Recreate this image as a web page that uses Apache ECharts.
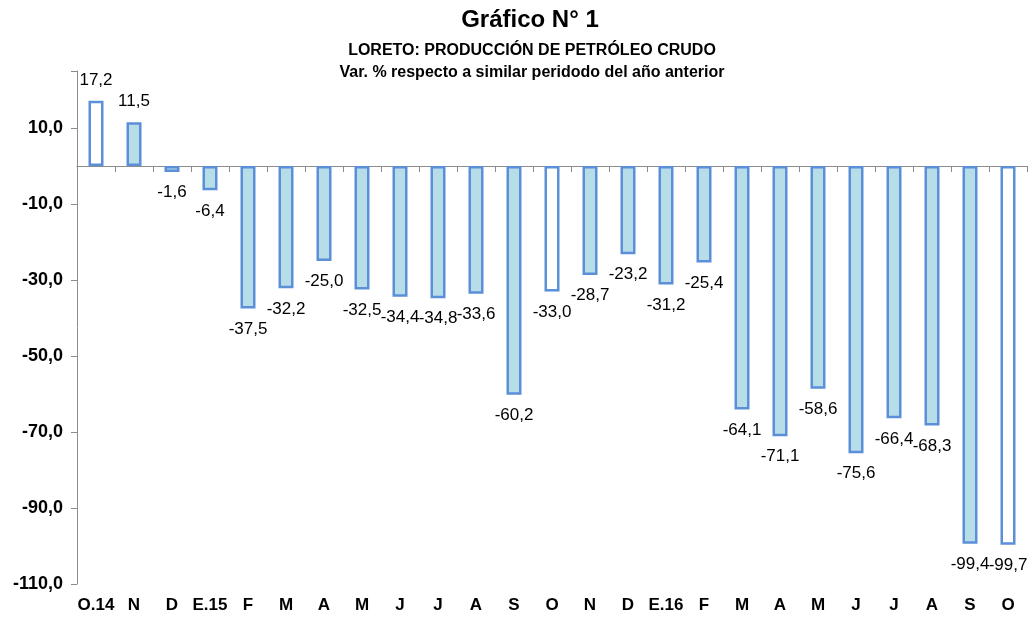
<!DOCTYPE html>
<html>
<head>
<meta charset="utf-8">
<script src="https://cdn.jsdelivr.net/npm/echarts@6/dist/echarts.min.js"></script>
<style>
  html, body { margin: 0; padding: 0; background: #fff; }
  #main { width: 1031px; height: 617px; }
</style>
</head>
<body>
<div id="main"></div>
<script>
// periodos (oct 2014 - oct 2016)
var categories = ['O.14', 'N', 'D', 'E.15', 'F', 'M', 'A', 'M', 'J', 'J', 'A', 'S',
  'O', 'N', 'D', 'E.16', 'F', 'M', 'A', 'M', 'J', 'J', 'A', 'S', 'O'];
// var. % respecto al mismo periodo del año anterior
var values = [17.2, 11.5, -1.6, -6.4, -37.5, -32.2, -25.0, -32.5, -34.4, -34.8, -33.6, -60.2,
  -33.0, -28.7, -23.2, -31.2, -25.4, -64.1, -71.1, -58.6, -75.6, -66.4, -68.3, -99.4, -99.7];
// barras sin relleno (octubre de cada año)
var hollow = [0, 12, 24];
var yTicks = [10, -10, -30, -50, -70, -90, -110];

var fmt = function (v) { return v.toFixed(1).replace('.', ','); };

var seriesData = values.map(function (v, i) {
  return {
    value: v,
    itemStyle: { color: hollow.indexOf(i) >= 0 ? '#ffffff' : '#b7dde8' },
    label: { position: v >= 0 ? 'top' : 'bottom' }
  };
});

var myChart = echarts.init(document.getElementById('main'));
var option = {
  animation: false,
  title: [{
    text: 'Gráfico N° 1',
    left: 525, top: 3, textAlign: 'center',
    textStyle: { fontFamily: 'Liberation Sans', fontSize: 24, fontWeight: 'bold', color: '#000' }
  }, {
    text: 'LORETO: PRODUCCIÓN DE PETRÓLEO CRUDO\nVar. % respecto a similar peridodo del año anterior',
    left: 527, top: 35, textAlign: 'center',
    textStyle: { fontFamily: 'Liberation Sans', fontSize: 16, fontWeight: 'bold', color: '#000', lineHeight: 22 }
  }],
  grid: { left: 77, right: 4, top: 71, bottom: 33 },
  xAxis: [{
    type: 'category',
    data: categories,
    axisLine: { show: false, onZero: false },
    axisTick: { show: false },
    axisLabel: {
      interval: 0, margin: 13,
      fontFamily: 'Liberation Sans', fontSize: 17, fontWeight: 'bold', color: '#000'
    }
  }, {
    type: 'category',
    data: categories,
    position: 'bottom',
    axisLine: { onZero: true, lineStyle: { color: '#8c8c8c', width: 1 } },
    axisTick: { show: true, length: 6, lineStyle: { color: '#8c8c8c' } },
    axisLabel: { show: false }
  }],
  yAxis: {
    type: 'value',
    min: -110, max: 25, interval: 20,
    splitLine: { show: false },
    axisLine: { show: true, lineStyle: { color: '#8c8c8c', width: 1 } },
    axisTick: { show: true, length: 6, lineStyle: { color: '#8c8c8c' } },
    axisLabel: {
      margin: 14,
      fontFamily: 'Liberation Sans', fontSize: 18, fontWeight: 'bold', color: '#000',
      formatter: function (v) { return yTicks.indexOf(v) >= 0 ? fmt(v) : ''; }
    }
  },
  series: [{
    type: 'bar',
    xAxisIndex: 0,
    data: seriesData,
    barWidth: 15,
    itemStyle: { borderColor: '#5b8fd8', borderWidth: 2.5 },
    label: {
      show: true,
      distance: 12,
      fontFamily: 'Liberation Sans', fontSize: 17, color: '#000',
      formatter: function (p) { return fmt(p.value); }
    }
  }]
};
myChart.setOption(option);
window.addEventListener('resize', myChart.resize);
</script>
</body>
</html>
